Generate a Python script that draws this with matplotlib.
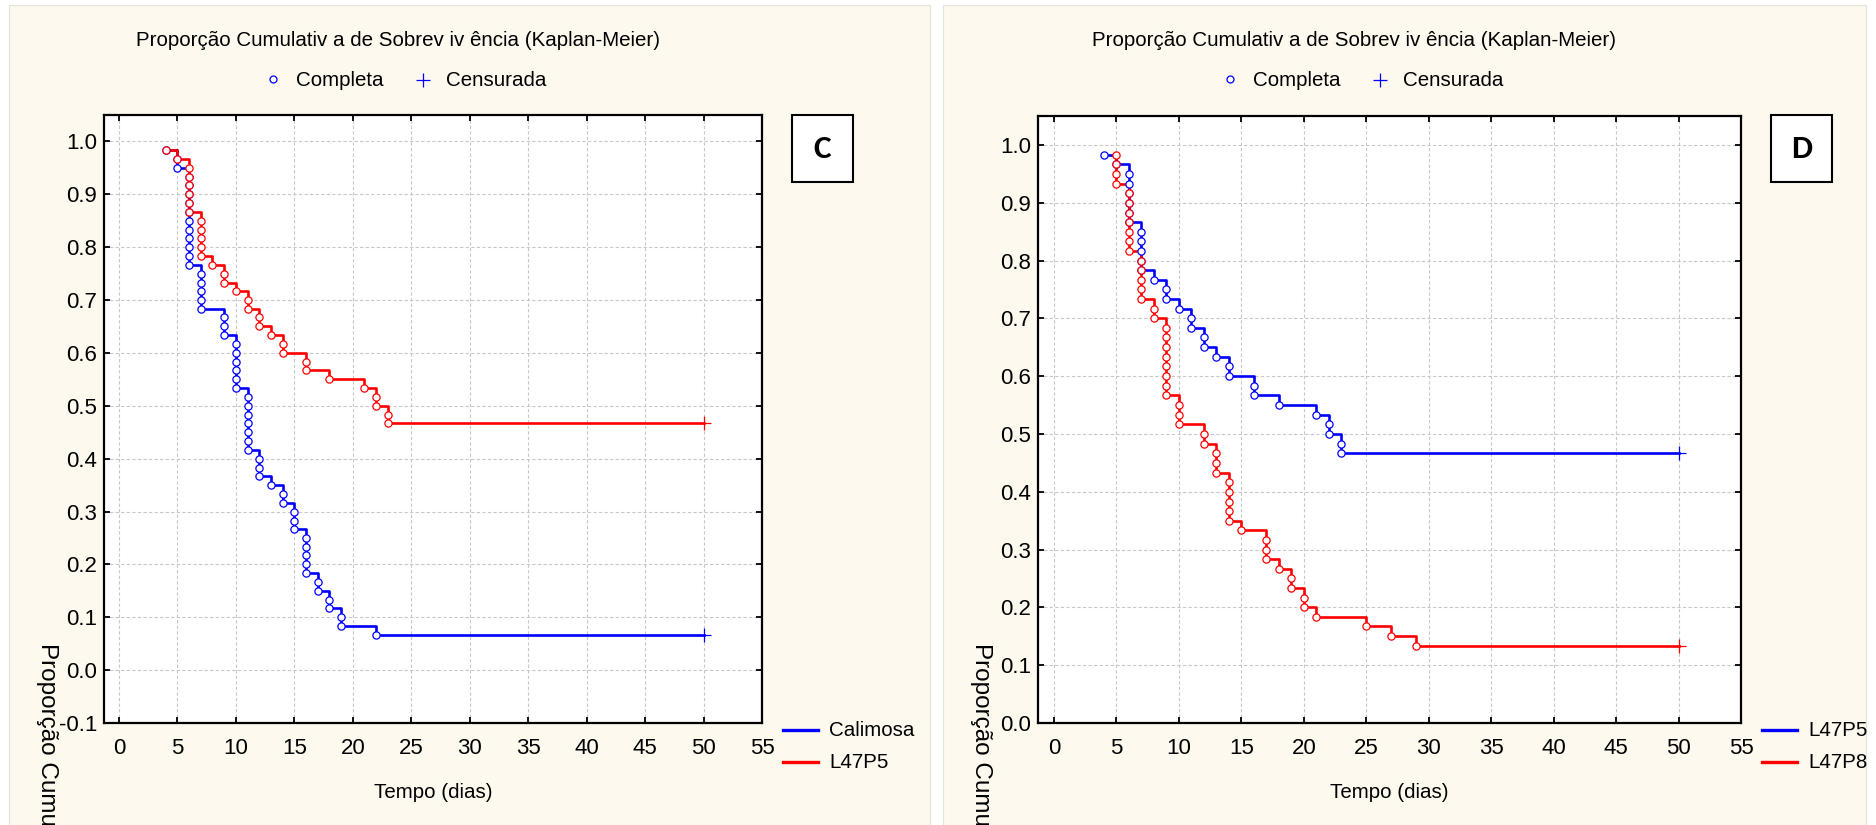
import matplotlib
matplotlib.use('Agg')
import matplotlib.pyplot as plt
from matplotlib import font_manager
from matplotlib.patches import Rectangle
from matplotlib.lines import Line2D

# ---------------- data ----------------
x_ticks = [0, 5, 10, 15, 20, 25, 30, 35, 40, 45, 50, 55]
yticks_C = [-0.1, 0.0, 0.1, 0.2, 0.3, 0.4, 0.5, 0.6, 0.7, 0.8, 0.9, 1.0]
yticks_D = [0.0, 0.1, 0.2, 0.3, 0.4, 0.5, 0.6, 0.7, 0.8, 0.9, 1.0]

calimosa_times = [4, 5, 5, 6, 6, 6, 6, 6, 6, 6, 6, 6, 6, 6, 7, 7, 7, 7, 7, 9, 9, 9,
                  10, 10, 10, 10, 10, 10, 11, 11, 11, 11, 11, 11, 11, 12, 12, 12, 13,
                  14, 14, 15, 15, 15, 16, 16, 16, 16, 16, 17, 17, 18, 18, 19, 19, 22]
calimosa_surv = [0.983, 0.967, 0.950, 0.933, 0.917, 0.900, 0.883, 0.867, 0.850, 0.833,
                 0.817, 0.800, 0.783, 0.767, 0.750, 0.733, 0.717, 0.700, 0.683, 0.667,
                 0.650, 0.633, 0.617, 0.600, 0.583, 0.567, 0.550, 0.533, 0.517, 0.500,
                 0.483, 0.467, 0.450, 0.433, 0.417, 0.400, 0.383, 0.367, 0.350, 0.333,
                 0.317, 0.300, 0.283, 0.267, 0.250, 0.233, 0.217, 0.200, 0.183, 0.167,
                 0.150, 0.133, 0.117, 0.100, 0.083, 0.067]
calimosa_censor = 50

l47p5_times = [4, 5, 6, 6, 6, 6, 6, 6, 7, 7, 7, 7, 7, 8, 9, 9, 10, 11, 11, 12, 12, 13,
               14, 14, 16, 16, 18, 21, 22, 22, 23, 23]
l47p5_surv = [0.983, 0.967, 0.950, 0.933, 0.917, 0.900, 0.883, 0.867, 0.850, 0.833,
              0.817, 0.800, 0.783, 0.767, 0.750, 0.733, 0.717, 0.700, 0.683, 0.667,
              0.650, 0.633, 0.617, 0.600, 0.583, 0.567, 0.550, 0.533, 0.517, 0.500,
              0.483, 0.467]
l47p5_censor = 50

l47p8_times = [5, 5, 5, 5, 6, 6, 6, 6, 6, 6, 6, 7, 7, 7, 7, 7, 8, 8, 9, 9, 9, 9, 9, 9,
               9, 9, 10, 10, 10, 12, 12, 13, 13, 13, 14, 14, 14, 14, 14, 15, 17, 17, 17,
               18, 19, 19, 20, 20, 21, 25, 27, 29]
l47p8_surv = [0.983, 0.967, 0.950, 0.933, 0.917, 0.900, 0.883, 0.867, 0.850, 0.833,
              0.817, 0.800, 0.783, 0.767, 0.750, 0.733, 0.717, 0.700, 0.683, 0.667,
              0.650, 0.633, 0.617, 0.600, 0.583, 0.567, 0.550, 0.533, 0.517, 0.500,
              0.483, 0.467, 0.450, 0.433, 0.417, 0.400, 0.383, 0.367, 0.350, 0.333,
              0.317, 0.300, 0.283, 0.267, 0.250, 0.233, 0.217, 0.200, 0.183, 0.167,
              0.150, 0.133]
l47p8_censor = 50

title_text = "Proporção Cumulativ a de Sobrev iv ência (Kaplan-Meier)"
legend_complete = "Completa"
legend_censored = "Censurada"
xlabel_text = "Tempo (dias)"
ylabel_text = "Proporção Cumulativa de Sobrevivência"

# ---------------- style ----------------
names = {f.name for f in font_manager.fontManager.ttflist}
narrow = 'Liberation Sans Narrow' if 'Liberation Sans Narrow' in names else 'Liberation Sans'
plt.rcParams['font.family'] = [narrow, 'DejaVu Sans']
bold_family = [f for f in ['Carlito', 'Lato', 'Open Sans', 'DejaVu Sans'] if f in names][:1] + ['DejaVu Sans']

BLUE = '#0000FF'
RED = '#FF0000'
CREAM = '#FEF9EE'
FS = 14.8

W, H = 1876, 825
fig = plt.figure(figsize=(W / 100, H / 100), dpi=100)
fig.patch.set_facecolor('white')


def fx(x):
    return x / W


def fy(y):
    return 1 - y / H


panels = [
    dict(left=104, right=762, top=115, bottom=723, ylim=(-0.1, 1.05), yticks=yticks_C,
         bg=(9, 930), letter='C',
         series=[("Calimosa", BLUE, calimosa_times, calimosa_surv, calimosa_censor),
                 ("L47P5", RED, l47p5_times, l47p5_surv, l47p5_censor)]),
    dict(left=1038, right=1741, top=116, bottom=723, ylim=(0.0, 1.05), yticks=yticks_D,
         bg=(943, 1866), letter='D',
         series=[("L47P5", BLUE, l47p5_times, l47p5_surv, l47p5_censor),
                 ("L47P8", RED, l47p8_times, l47p8_surv, l47p8_censor)]),
]

for p in panels:
    b0, b1 = p['bg']
    fig.add_artist(Rectangle((fx(b0), fy(H)), (b1 - b0) / W, (H - 5) / H,
                             transform=fig.transFigure, facecolor=CREAM,
                             edgecolor='#e6e2da', lw=0.8, zorder=-5))

    ax = fig.add_axes([fx(p['left']), fy(p['bottom']),
                       (p['right'] - p['left']) / W, (p['bottom'] - p['top']) / H])
    ax.set_facecolor('white')
    ax.set_xlim(-1.28, 55)
    ax.set_ylim(*p['ylim'])
    ax.set_xticks(x_ticks)
    ax.set_yticks(p['yticks'])
    ax.set_xticklabels([str(t) for t in x_ticks])
    ax.set_yticklabels(['%.1f' % t for t in p['yticks']])
    ax.grid(True, color='#c8c8c8', linestyle=(0, (3, 2)), linewidth=0.8)
    ax.set_axisbelow(True)
    for s in ax.spines.values():
        s.set_linewidth(1.6)
        s.set_color('black')
    ax.tick_params(direction='in', length=4, width=1.3, top=True, right=True,
                   labelsize=16, colors='black')
    ax.tick_params(axis='x', pad=11)
    ax.tick_params(axis='y', pad=5)

    for label, color, times, surv, cens in p['series']:
        xs = list(times) + [cens]
        ys = list(surv) + [surv[-1]]
        ax.plot(xs, ys, drawstyle='steps-post', color=color, lw=1.9, zorder=3)
        ax.plot(times, surv, linestyle='none', marker='o', ms=5.2, mfc='white',
                mec=color, mew=0.9, zorder=4)
        ax.plot([cens], [surv[-1]], linestyle='none', marker='+', ms=10,
                mec=color, mew=0.9, zorder=5)

    cx = (p['left'] + p['right']) / 2
    fig.text(fx(cx - 35), fy(40), title_text, ha='center', va='center', fontsize=FS)
    fig.add_artist(Line2D([fx(cx - 160)], [fy(79)], marker='o', ms=5, mfc='white',
                          mec=BLUE, mew=0.9, linestyle='none', transform=fig.transFigure))
    fig.text(fx(cx - 137), fy(80), legend_complete, ha='left', va='center', fontsize=FS)
    fig.add_artist(Line2D([fx(cx - 10)], [fy(80)], marker='+', ms=10,
                          mec=BLUE, mew=0.9, linestyle='none', transform=fig.transFigure))
    fig.text(fx(cx + 13), fy(80), legend_censored, ha='left', va='center', fontsize=FS)

    # letter box
    r = p['right']
    fig.add_artist(Rectangle((fx(r + 30), fy(182)), 61 / W, 67 / H,
                             transform=fig.transFigure, facecolor='white',
                             edgecolor='black', lw=1.5, zorder=2))
    fig.text(fx(r + 60.5), fy(149), p['letter'], ha='center', va='center',
             fontsize=24, fontweight='bold', family=bold_family, zorder=3)

    # bottom legend
    for i, (label, color, *_rest) in enumerate(p['series']):
        yy = 730 + 32 * i
        fig.add_artist(Line2D([fx(r + 21), fx(r + 56)], [fy(yy), fy(yy)], color=color,
                              lw=2.4, transform=fig.transFigure))
        fig.text(fx(r + 67), fy(yy), label, ha='left', va='center', fontsize=FS)

    fig.text(fx(cx), fy(793), xlabel_text, ha='center', va='center', fontsize=FS)
    fig.text(fx(p['left'] - 57), fy(643), ylabel_text, ha='center', va='top',
             rotation=-90, fontsize=17.5)

fig.savefig('out.png', dpi=100, facecolor=fig.get_facecolor())
